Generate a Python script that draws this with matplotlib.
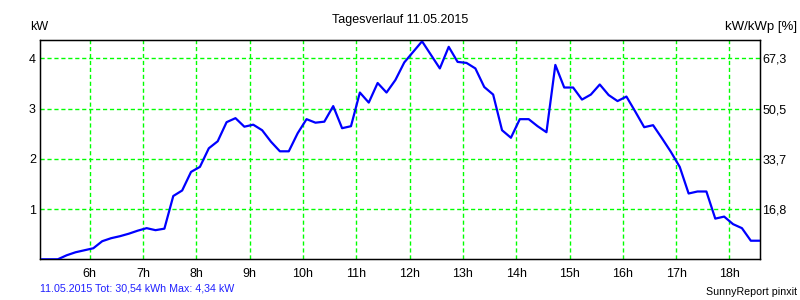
import matplotlib
matplotlib.use("Agg")
import matplotlib.pyplot as plt
import numpy as np

plt.rcParams["font.family"] = ["Liberation Sans", "DejaVu Sans"]

# measurement times (hh:mm), 10 minute steps
times = [
    "05:04", "05:14", "05:24", "05:34", "05:44", "05:54",
    "06:04", "06:14", "06:24", "06:34", "06:44", "06:54",
    "07:04", "07:14", "07:24", "07:34", "07:44", "07:54",
    "08:04", "08:14", "08:24", "08:34", "08:44", "08:54",
    "09:04", "09:14", "09:24", "09:34", "09:44", "09:54",
    "10:04", "10:14", "10:24", "10:34", "10:44", "10:54",
    "11:04", "11:14", "11:24", "11:34", "11:44", "11:54",
    "12:04", "12:14", "12:24", "12:34", "12:44", "12:54",
    "13:04", "13:14", "13:24", "13:34", "13:44", "13:54",
    "14:04", "14:14", "14:24", "14:34", "14:44", "14:54",
    "15:04", "15:14", "15:24", "15:34", "15:44", "15:54",
    "16:04", "16:14", "16:24", "16:34", "16:44", "16:54",
    "17:04", "17:14", "17:24", "17:34", "17:44", "17:54",
    "18:04", "18:14", "18:24", "18:34",
]
power_kw = [
    0.00, 0.00, 0.00, 0.08, 0.14, 0.18,
    0.22, 0.36, 0.42, 0.46, 0.51, 0.57,
    0.62, 0.58, 0.61, 1.26, 1.37, 1.74,
    1.84, 2.21, 2.35, 2.73, 2.81, 2.64,
    2.68, 2.57, 2.34, 2.15, 2.15, 2.51,
    2.79, 2.72, 2.74, 3.05, 2.61, 2.65,
    3.32, 3.12, 3.51, 3.32, 3.57, 3.92,
    4.13, 4.34, 4.07, 3.80, 4.23, 3.93,
    3.91, 3.80, 3.43, 3.28, 2.57, 2.42,
    2.79, 2.79, 2.65, 2.53, 3.87, 3.42,
    3.42, 3.18, 3.28, 3.48, 3.27, 3.15,
    3.24, 2.94, 2.63, 2.67, 2.41, 2.14,
    1.84, 1.31, 1.35, 1.35, 0.81, 0.85,
    0.70, 0.62, 0.37, 0.37,
]
hour_ticks = [6, 7, 8, 9, 10, 11, 12, 13, 14, 15, 16, 17, 18]
kw_ticks = [1, 2, 3, 4]
pct_labels = ["16,8", "33,7", "50,5", "67,3"]

hours = np.array([int(t[:2]) + int(t[3:]) / 60 for t in times])

fig = plt.figure(figsize=(8, 3), dpi=100)
ax = fig.add_axes([40 / 800, 1 - 259.3 / 300, 719.7 / 800, 219 / 300])

ax.plot(hours, power_kw, color="#0000ff", lw=1.6, zorder=3)
ax.set_xlim(hours[0], hours[-1])
ax.set_ylim(0, 4.36)

ax.set_xticks(hour_ticks)
ax.set_xticklabels([f"{h}h" for h in hour_ticks])
ax.set_yticks(kw_ticks)
ax.grid(True, color="#00ff00", lw=1.0, linestyle=(0, (3, 2)))
ax.tick_params(axis="both", length=0, labelsize=9)
ax.tick_params(axis="x", pad=6)
ax.tick_params(axis="y", pad=3)
for s in ax.spines.values():
    s.set_linewidth(1.0)

ax2 = ax.twinx()
ax2.set_ylim(ax.get_ylim())
ax2.set_yticks(kw_ticks)
ax2.set_yticklabels(pct_labels)
ax2.tick_params(axis="y", length=0, labelsize=9, pad=2)

fig.text(0.5, 1 - 20 / 300, "Tagesverlauf 11.05.2015", ha="center", va="center", fontsize=9)
fig.text(30 / 800, 1 - 27.3 / 300, "kW", ha="left", va="center", fontsize=9)
fig.text(797 / 800, 1 - 26.7 / 300, "kW/kWp [%]", ha="right", va="center", fontsize=9.5)
fig.text(40 / 800, 1 - 288.3 / 300, "11.05.2015 Tot: 30,54 kWh Max: 4,34 kW",
         ha="left", va="center", fontsize=7.7, color="#2020ff")
fig.text(797 / 800, 1 - 291.7 / 300, "SunnyReport pinxit", ha="right", va="center", fontsize=7.7)

fig.savefig("out.png", dpi=100)
